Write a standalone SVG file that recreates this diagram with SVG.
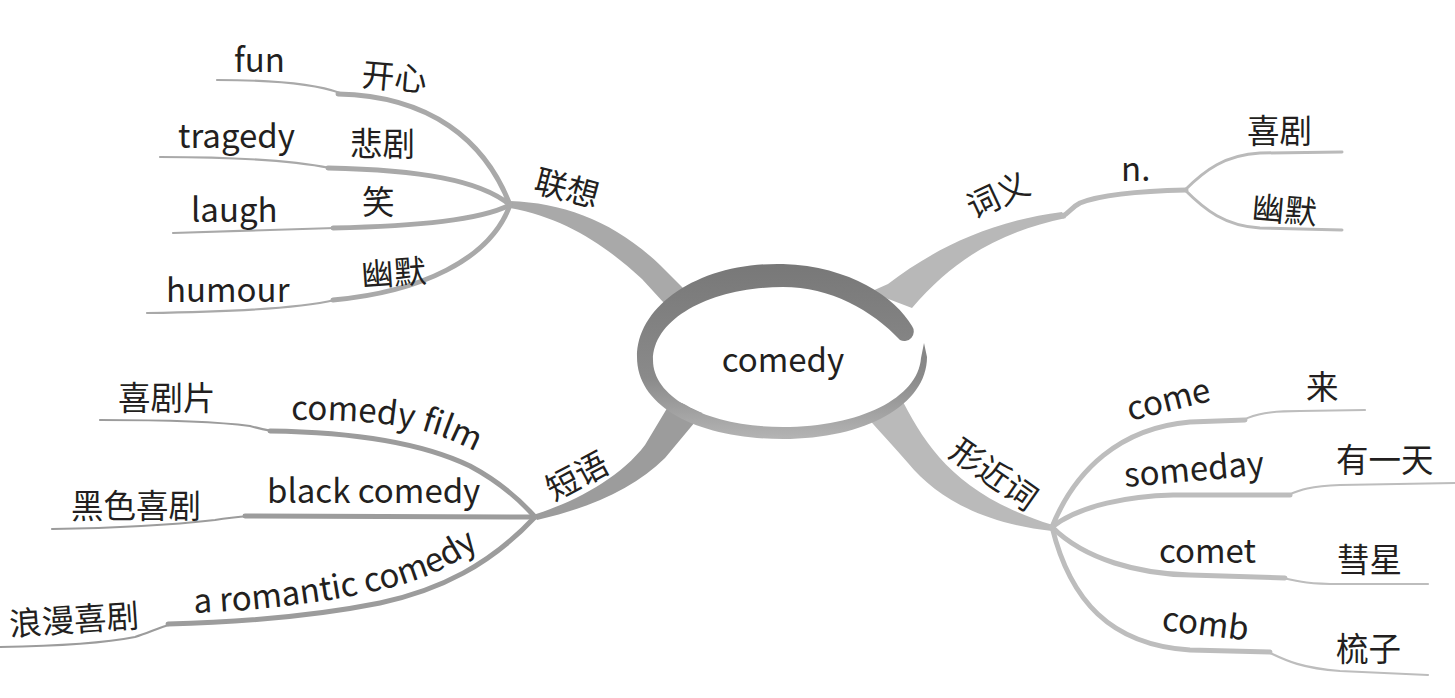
<svg xmlns="http://www.w3.org/2000/svg" width="1455" height="698" viewBox="0 0 1455 698">
<defs>
<style>
.t{font-family:"Noto Sans CJK SC","Noto Sans",sans-serif;fill:#231f20}
.en{font-size:33px}
.zh{font-size:32.5px}
.c{text-anchor:middle}
.lk{fill:none;stroke-linecap:round;stroke-linejoin:round}
.a1{stroke:#a9a9a9}
.a2{stroke:#9c9c9c}
.a3{stroke:#bababa}
.a4{stroke:#bdbdbd}
.th{stroke-width:5}
.tn{stroke-width:2.2}
</style>
<linearGradient id="ringG" x1="0" y1="0" x2="0" y2="1">
<stop offset="0" stop-color="#787878"/>
<stop offset="0.65" stop-color="#8a8a8a"/>
<stop offset="1" stop-color="#b4b4b4"/>
</linearGradient>
<path id="p1" d="M291,420 C345,419 395,423 428,432 C448,438 465,446 486,457"/>
<path id="p2" d="M194,613 C270,610 345,600 400,585 C440,574 468,556 497,533"/>
</defs>
<rect width="1455" height="698" fill="#ffffff"/>

<g id="connectors">
<path d="M510,201 C565,203 615,222 660,265 L695,300 L675,315 L642,279 C605,245 565,218 510,208 Z" fill="#a9a9a9"/>
<path d="M533,515 C575,502 620,478 645,445 L672,400 L705,410 L665,458 C635,488 590,508 537,520 Z" fill="#9c9c9c"/>
<path d="M870,292 L888,284 C930,252 985,222 1062,212 L1066,218 C1000,232 955,258 912,308 Z" fill="#b8b8b8"/>
<path d="M1063,216 C1070,212 1072,207 1080,203 C1100,195 1140,191 1186,190" class="lk a3" stroke-width="5"/>
<path d="M866,416 L900,396 C925,445 955,495 1053,525 L1052,531 C980,523 935,496 908,463 C895,448 881,433 866,416 Z" fill="#bababa"/>

<path d="M217,80 C260,80 310,82 340,93" class="lk a1 tn"/>
<path d="M338,94 C430,96 485,140 510,205" class="lk a1 th"/>
<path d="M160,157 C250,157 300,162 330,168" class="lk a1 tn"/>
<path d="M328,168 C420,170 480,180 510,205" class="lk a1 th"/>
<path d="M173,233 L335,228" class="lk a1 tn"/>
<path d="M333,228 C420,226 480,220 510,205" class="lk a1 th"/>
<path d="M147,313 C230,312 300,308 335,300" class="lk a1 tn"/>
<path d="M333,300 C420,292 490,260 510,205" class="lk a1 th"/>

<path d="M100,420 C170,420 220,422 250,426 C262,429 268,431 275,431" class="lk a2 tn"/>
<path d="M270,431 C350,432 420,442 470,466 C500,482 520,500 535,517" class="lk a2 th"/>
<path d="M52,529 C120,528 180,524 215,520 C228,518 238,517 250,516" class="lk a2 tn"/>
<path d="M245,516 L535,517" class="lk a2 th"/>
<path d="M0,647 C60,646 110,642 135,637 C148,633 158,628 172,624" class="lk a2 tn"/>
<path d="M168,624 C250,622 320,615 380,603 C440,590 490,565 535,517" class="lk a2 th"/>

<path d="M1185,190 C1205,170 1225,155 1260,153 L1342,152" class="lk a3" stroke-width="3"/>
<path d="M1185,190 C1205,210 1225,226 1260,228 L1342,230" class="lk a3" stroke-width="3"/>

<path d="M1052,527 C1075,470 1120,428 1190,422 L1245,420" class="lk a4 th"/>
<path d="M1243,420 C1255,414 1270,411 1300,411 L1365,410" class="lk a4 tn"/>
<path d="M1052,527 C1080,505 1130,496 1173,495 L1290,495" class="lk a4 th"/>
<path d="M1288,495 C1300,490 1310,486 1340,485 L1455,483" class="lk a4 tn"/>
<path d="M1052,527 C1085,560 1140,574 1190,575 L1285,578" class="lk a4 th"/>
<path d="M1283,578 C1300,582 1310,584 1340,584 L1428,584" class="lk a4 tn"/>
<path d="M1052,527 C1070,600 1110,645 1190,650 L1270,652" class="lk a4 th"/>
<path d="M1268,652 C1285,660 1300,668 1340,671 L1428,675" class="lk a4 tn"/>
</g>

<g id="center">
<ellipse cx="786" cy="357" rx="136" ry="71" fill="#ffffff"/>
<path d="M912,326 C896,298 850,266 783,264 C700,262 637,305 637,357 C637,408 700,439 783,439 C865,439 927,405 927,357 L924,343 L921,358 C918,398 860,427 783,427 C712,427 653,400 653,360 C653,318 712,287 783,287 C830,287 872,310 900,340 A9.5,9.5 0 0 0 912,326 Z" fill="url(#ringG)"/>
<text class="t en c" x="783" y="372">comedy</text>
</g>

<g id="node-lianxiang">
<text class="t zh c" x="567" y="200" transform="rotate(15,567,188)">联想</text>
</g>
<g id="node-fun"><text class="t en" x="234" y="72">fun</text></g>
<g id="node-kaixin"><text class="t zh" x="361" y="86" transform="rotate(5,361,86)">开心</text></g>
<g id="node-tragedy"><text class="t en" x="178" y="148">tragedy</text></g>
<g id="node-beiju"><text class="t zh" x="350" y="156">悲剧</text></g>
<g id="node-laugh"><text class="t en" x="191" y="222">laugh</text></g>
<g id="node-xiao"><text class="t zh" x="362" y="214">笑</text></g>
<g id="node-humour"><text class="t en" x="166" y="302">humour</text></g>
<g id="node-youmo1"><text class="t zh" x="362" y="287" transform="rotate(-4,362,287)">幽默</text></g>

<g id="node-duanyu">
<text class="t zh c" x="577" y="488" transform="rotate(-28,577,476)">短语</text>
</g>
<g id="node-xijupian"><text class="t zh" x="118" y="410">喜剧片</text></g>
<g id="node-comedyfilm"><text class="t en"><textPath href="#p1">comedy film</textPath></text></g>
<g id="node-heise"><text class="t zh" x="71" y="518">黑色喜剧</text></g>
<g id="node-blackcomedy"><text class="t en" x="267" y="503">black comedy</text></g>
<g id="node-langman"><text class="t zh" x="10" y="636" transform="rotate(-4,10,636)">浪漫喜剧</text></g>
<g id="node-romantic"><text class="t en"><textPath href="#p2">a romantic comedy</textPath></text></g>

<g id="node-ciyi">
<text class="t zh c" x="998" y="207" transform="rotate(-25,998,195)">词义</text>
</g>
<g id="node-n"><text class="t en" x="1121" y="181">n.</text></g>
<g id="node-xiju"><text class="t zh" x="1247" y="143">喜剧</text></g>
<g id="node-youmo2"><text class="t zh" x="1251" y="219" transform="rotate(5,1251,219)">幽默</text></g>

<g id="node-xingjinci">
<text class="t zh c" x="994" y="486" transform="rotate(35,994,474)">形近词</text>
</g>
<g id="node-come"><text class="t en" x="1130" y="421" transform="rotate(-14,1130,421)">come</text></g>
<g id="node-lai"><text class="t zh" x="1306" y="399">来</text></g>
<g id="node-someday"><text class="t en" x="1125" y="487" transform="rotate(-5,1125,487)">someday</text></g>
<g id="node-youyitian"><text class="t zh" x="1336" y="472">有一天</text></g>
<g id="node-comet"><text class="t en" x="1159" y="563">comet</text></g>
<g id="node-huixing"><text class="t zh" x="1337" y="572">彗星</text></g>
<g id="node-comb"><text class="t en" x="1161" y="630" transform="rotate(7,1161,630)">comb</text></g>
<g id="node-shuzi"><text class="t zh" x="1336" y="661">梳子</text></g>
</svg>
